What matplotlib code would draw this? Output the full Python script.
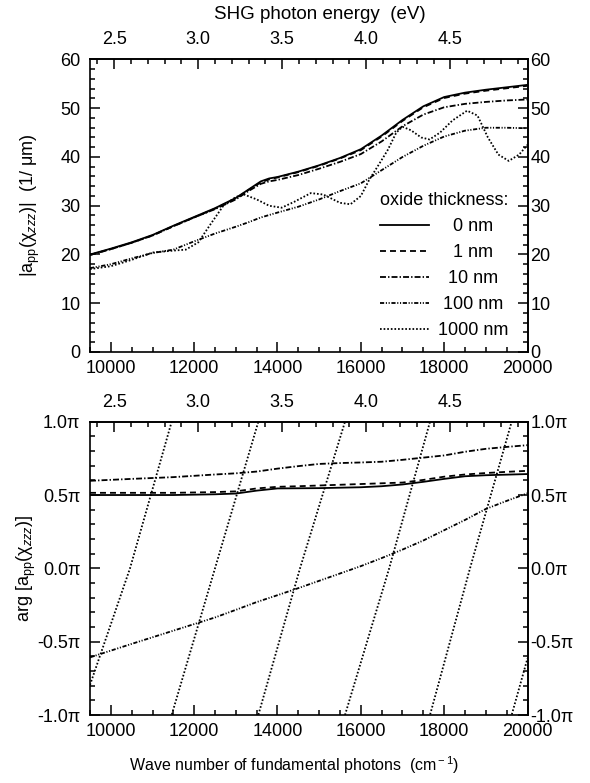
import numpy as np
import matplotlib
matplotlib.use("Agg")
import matplotlib.pyplot as plt
from matplotlib.ticker import MultipleLocator

plt.rcParams['font.family'] = ['Liberation Sans', 'DejaVu Sans']
plt.rcParams['mathtext.fontset'] = 'custom'
plt.rcParams['mathtext.rm'] = 'Liberation Sans'
plt.rcParams['mathtext.it'] = 'Liberation Sans:italic'
plt.rcParams['mathtext.bf'] = 'Liberation Sans:bold'
plt.rcParams['lines.scale_dashes'] = False
plt.rcParams['font.size'] = 13

# wave number of the fundamental photons (cm-1)
k_amp = [9500, 10000, 10500, 11000, 11500, 12000, 12500, 13000, 13300, 13600, 13800, 14000,
         14500, 15000, 15500, 16000, 16500, 17000, 17500, 18000, 18500, 19000, 19500, 20000]
amp_0nm = [20.0, 21.2, 22.5, 24.0, 25.9, 27.7, 29.5, 31.6, 33.3, 35.0, 35.6, 35.9,
           37.0, 38.3, 39.8, 41.6, 44.4, 47.6, 50.4, 52.3, 53.2, 53.8, 54.3, 54.8]
amp_1nm = [19.9, 21.1, 22.4, 23.9, 25.8, 27.6, 29.4, 31.5, 33.2, 34.8, 35.4, 35.8,
           36.9, 38.2, 39.7, 41.4, 44.2, 47.4, 50.2, 52.1, 53.0, 53.6, 54.1, 54.6]
amp_10nm = [19.9, 21.1, 22.4, 23.9, 25.8, 27.6, 29.3, 31.3, 33.0, 34.5, 35.0, 35.3,
            36.3, 37.6, 39.0, 40.6, 43.2, 46.3, 48.7, 50.2, 50.9, 51.3, 51.6, 51.8]
amp_100nm = [17.2, 18.0, 19.2, 20.3, 21.0, 22.7, 24.3, 25.7, 26.6, 27.6, 28.1, 28.6,
             29.8, 31.3, 33.0, 34.6, 37.3, 40.0, 42.3, 44.2, 45.4, 46.0, 46.0, 45.9]

k_amp_1000 = [9500, 10000, 10500, 11000, 11500, 11800, 12100, 12400, 12700, 13000, 13200, 13500,
              13800, 14100, 14400, 14800, 15100, 15500, 15750, 16000, 16200, 16450, 16650, 16850,
              17000, 17200, 17450, 17650, 17900, 18200, 18550, 18800, 19050, 19300, 19550, 19800, 20000]
amp_1000nm = [17.0, 17.6, 18.9, 20.4, 20.8, 21.0, 22.5, 26.3, 30.0, 31.8, 32.3, 31.3,
              30.0, 29.6, 30.8, 32.6, 32.3, 30.6, 30.3, 32.0, 35.3, 38.7, 41.5, 45.0,
              46.2, 45.5, 44.0, 43.6, 45.0, 47.5, 49.5, 48.5, 44.0, 40.5, 39.2, 40.5, 42.5]

# phase in units of pi
k_ph = [9500, 10500, 11500, 12500, 13000, 13500, 14000, 14500, 15000, 15500,
        16000, 16500, 17000, 17500, 18000, 18500, 19000, 19500, 20000]
ph_0nm = [0.500, 0.500, 0.500, 0.505, 0.510, 0.530, 0.545, 0.546, 0.547, 0.550,
          0.553, 0.560, 0.572, 0.590, 0.610, 0.628, 0.635, 0.639, 0.643]
ph_1nm = [0.515, 0.515, 0.515, 0.520, 0.525, 0.545, 0.556, 0.560, 0.565, 0.570,
          0.575, 0.580, 0.585, 0.603, 0.625, 0.640, 0.650, 0.658, 0.665]
ph_10nm = [0.597, 0.610, 0.622, 0.640, 0.648, 0.660, 0.680, 0.697, 0.712, 0.718,
           0.722, 0.727, 0.740, 0.755, 0.770, 0.795, 0.815, 0.828, 0.840]
ph_100nm = [-0.607, -0.515, -0.425, -0.335, -0.283, -0.230, -0.183, -0.135, -0.085, -0.035,
            0.015, 0.070, 0.128, 0.190, 0.260, 0.330, 0.405, 0.460, 0.512]
# 1000 nm phase, unwrapped (wraps every 2 pi)
k_ph_1000 = [9500, 10460, 11460, 12500, 13540, 14540, 15620, 16680, 17660, 18620, 19620, 20000]
ph_1000nm = [-0.795, 0.0, 1.0, 2.0, 3.0, 4.0, 5.0, 6.0, 7.0, 8.0, 9.0, 9.386]

labels = ['   0 nm', '   1 nm', '  10 nm', ' 100 nm', '1000 nm']
styles = ['-', (0, (4.3, 2.9)), (0, (4.3, 1.5, 1.0, 1.5)),
          (0, (3.0, 1.2, 0.8, 1.2, 0.8, 1.2)), (0, (1.2, 1.4))]

amp_ticks = [0, 10, 20, 30, 40, 50, 60]
ph_ticks = [-1.0, -0.5, 0.0, 0.5, 1.0]
ph_ticklabels = ['-1.0π', '-0.5π', '0.0π', '0.5π', '1.0π']
ev_ticks = [2.5, 3.0, 3.5, 4.0, 4.5]


def k2ev(k):
    return np.asarray(k) * 2 * 1.23984e-4


def ev2k(e):
    return np.asarray(e) / (2 * 1.23984e-4)


def same(v):
    return v


def style_axes(ax, yticks, yticklabels, yminor, top_label=None):
    ax.set_xlim(9500, 20000)
    ax.xaxis.set_major_locator(MultipleLocator(2000))
    ax.xaxis.set_minor_locator(MultipleLocator(500))
    ax.set_yticks(yticks)
    ax.set_yticklabels(yticklabels)
    ax.yaxis.set_minor_locator(MultipleLocator(yminor))
    ax.tick_params(which='both', direction='in', top=False, right=False,
                   width=1.1, labelsize=13)
    ax.tick_params(which='major', length=7)
    ax.tick_params(which='minor', length=3.5)
    ax.tick_params(axis='y', which='both', pad=7)
    ax.tick_params(axis='x', which='both', pad=6)
    for s in ax.spines.values():
        s.set_linewidth(1.2)

    sec = ax.secondary_xaxis('top', functions=(k2ev, ev2k))
    sec.set_xticks(ev_ticks)
    sec.set_xticklabels(['%.1f' % e for e in ev_ticks])
    sec.xaxis.set_minor_locator(MultipleLocator(0.1))
    sec.tick_params(which='both', direction='in', width=1.1, labelsize=13, pad=8)
    sec.tick_params(which='major', length=7)
    sec.tick_params(which='minor', length=3.5)
    sec.spines['top'].set_linewidth(1.2)
    if top_label:
        sec.set_xlabel(top_label, labelpad=9, fontsize=13.5)
        sec.xaxis.label.set_x(0.526)

    rsec = ax.secondary_yaxis('right', functions=(same, same))
    rsec.set_yticks(yticks)
    rsec.set_yticklabels(yticklabels)
    rsec.yaxis.set_minor_locator(MultipleLocator(yminor))
    rsec.tick_params(which='both', direction='in', width=1.1, labelsize=13, pad=2)
    rsec.tick_params(which='major', length=7)
    rsec.tick_params(which='minor', length=3.5)
    rsec.spines['right'].set_linewidth(1.2)


fig = plt.figure(figsize=(5.9, 7.83), dpi=100)
ax1 = fig.add_axes([90 / 590, 1 - 352 / 783, 437.5 / 590, 292.5 / 783])
ax2 = fig.add_axes([90 / 590, 1 - 715 / 783, 437.5 / 590, 293.3 / 783])

# upper panel: amplitude
amps = [amp_0nm, amp_1nm, amp_10nm, amp_100nm]
for y, ls, lab in zip(amps, styles[:4], labels[:4]):
    ax1.plot(k_amp, y, color='black', lw=1.3, linestyle=ls, label=lab)
ax1.plot(k_amp_1000, amp_1000nm, color='black', lw=1.3, linestyle=styles[4], label=labels[4])

ax1.set_ylim(0, 60)
style_axes(ax1, amp_ticks, [str(v) for v in amp_ticks], 2, 'SHG photon energy  (eV)')
ax1.set_ylabel('|a$_{\\rm pp}$(χ$_{zzz}$)|  (1/ μm)')
ax1.yaxis.set_label_coords(-0.11, 0.5)

leg = ax1.legend(loc='lower right', bbox_to_anchor=(0.985, 0.0), frameon=False,
                 title='oxide thickness:', title_fontsize=13, fontsize=13,
                 handlelength=2.7, handletextpad=0.5, labelspacing=0.5, borderpad=0.2)
leg._legend_box.align = 'left'

# lower panel: phase
phs = [ph_0nm, ph_1nm, ph_10nm, ph_100nm]
for y, ls in zip(phs, styles[:4]):
    ax2.plot(k_ph, y, color='black', lw=1.3, linestyle=ls)
for shift in [0, 2, 4, 6, 8, 10]:
    ax2.plot(k_ph_1000, np.asarray(ph_1000nm) - shift, color='black', lw=1.3,
             linestyle=styles[4])

ax2.set_ylim(-1, 1)
style_axes(ax2, ph_ticks, ph_ticklabels, 0.1)
ax2.set_ylabel('arg [a$_{\\rm pp}$(χ$_{zzz}$)]')
ax2.yaxis.set_label_coords(-0.119, 0.5)
ax2.set_xlabel('Wave number of fundamental photons  (cm$^{\\rm -1}$)', labelpad=10, fontsize=11.5)
ax2.xaxis.label.set_x(0.466)

fig.savefig('out.png', dpi=100)
